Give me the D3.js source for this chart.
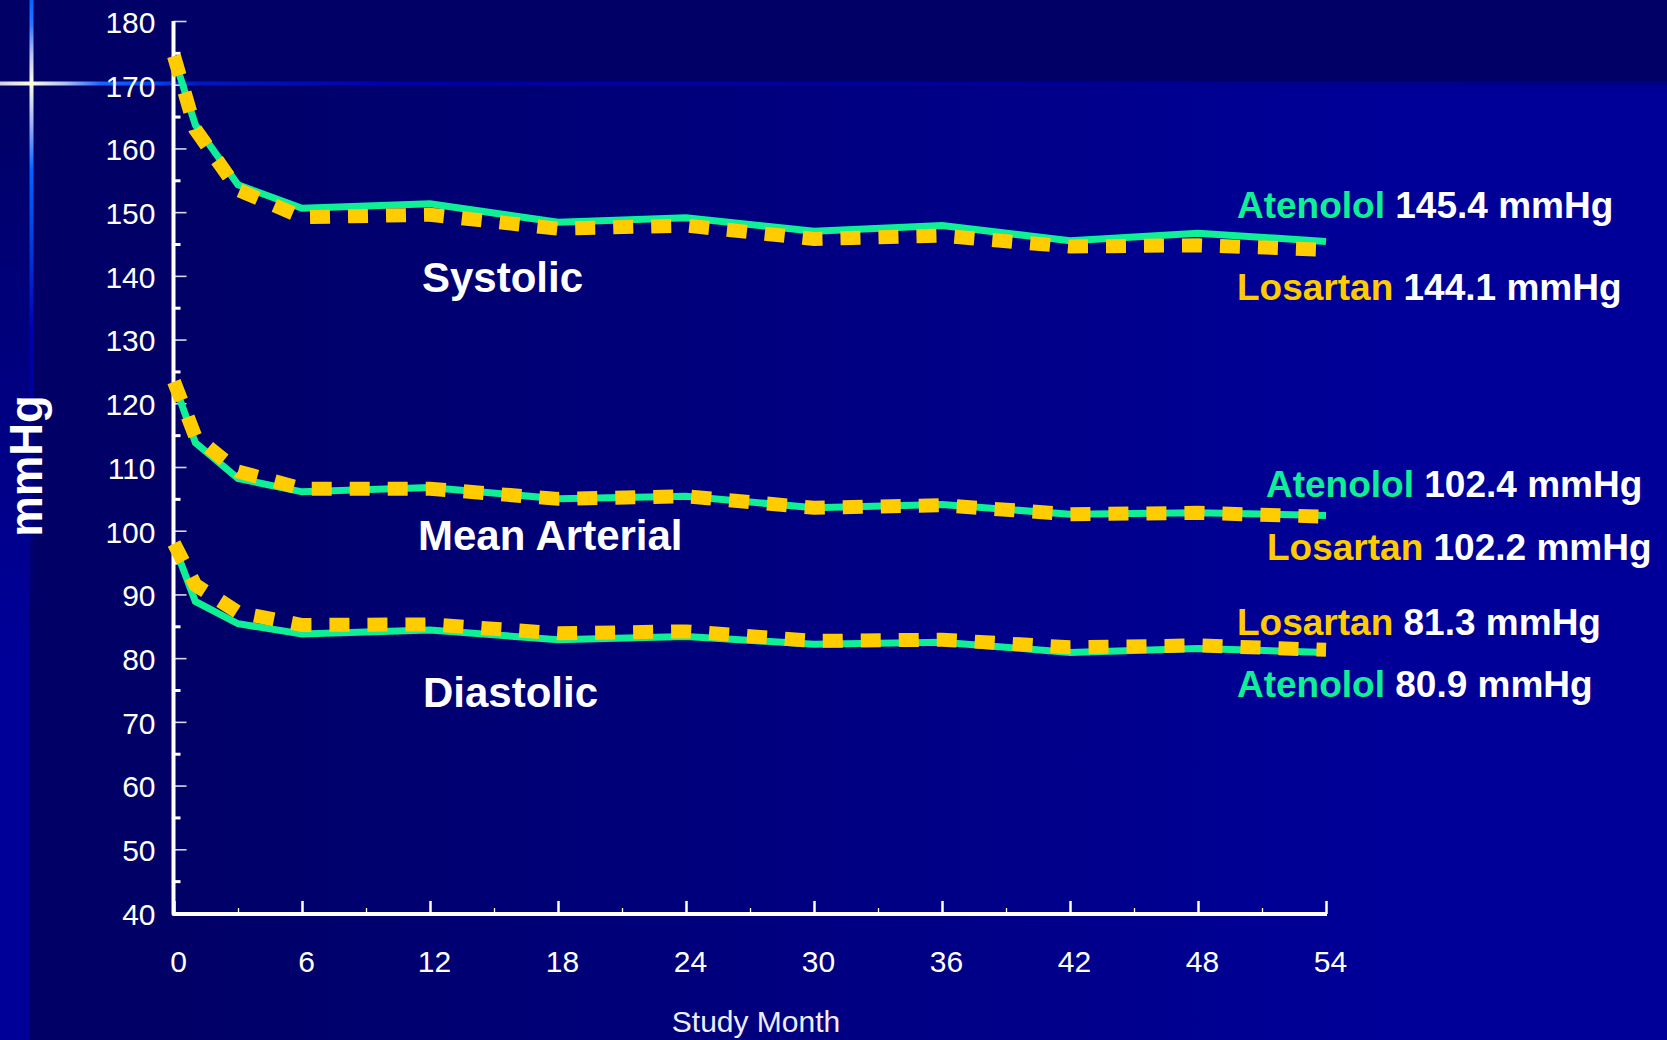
<!DOCTYPE html>
<html>
<head>
<meta charset="utf-8">
<script src="https://cdn.jsdelivr.net/npm/d3@7"></script>
<style>
  html, body { margin: 0; padding: 0; background: #000066; overflow: hidden; }
  svg { display: block; }
</style>
</head>
<body>
<svg id="chart" width="1667" height="1040"></svg>
<script>
// ---- data (mmHg by study month) ----
const months = [0, 1, 3, 6, 12, 18, 24, 30, 36, 42, 48, 54];

const systolicAtenolol = [174.3, 163.7, 154.3, 150.6, 151.3, 148.4, 149.1, 147.0, 147.9, 145.5, 146.7, 145.4];
const systolicLosartan = [174.5, 163.0, 153.5, 149.2, 149.6, 147.4, 147.9, 145.8, 146.3, 144.6, 144.8, 144.1];

const meanAtenolol = [123.2, 113.8, 108.2, 106.1, 106.8, 105.0, 105.4, 103.6, 104.1, 102.6, 102.8, 102.4];
const meanLosartan = [123.4, 114.8, 109.3, 106.6, 106.6, 105.0, 105.4, 103.6, 104.0, 102.6, 102.8, 102.2];

const diastolicAtenolol = [97.8, 88.9, 85.4, 83.8, 84.4, 82.9, 83.4, 82.2, 82.5, 80.9, 81.5, 80.9];
const diastolicLosartan = [98.0, 91.5, 87.2, 85.2, 85.3, 83.9, 84.2, 82.7, 82.9, 81.7, 82.0, 81.3];

const groupNames = ["Systolic", "Mean Arterial", "Diastolic"];
const drugNames = ["Atenolol", "Losartan"];

const yTickValues = [40, 50, 60, 70, 80, 90, 100, 110, 120, 130, 140, 150, 160, 170, 180];
const yMinorValues = [45, 55, 65, 75, 85, 95, 105, 115, 125, 135, 145, 155, 165, 175];
const xTickValues = [0, 6, 12, 18, 24, 30, 36, 42, 48, 54];
const xMinorValues = [3, 9, 15, 21, 27, 33, 39, 45, 51];

const yTitle = "mmHg";
const xTitle = "Study Month";
const unit = "mmHg";

// ---- styling ----
const FONT = "'Liberation Sans', Arial, Helvetica, sans-serif";
const GREEN = "#10EE96";
const YELLOW = "#FFCC00";
const drugColor = { Atenolol: GREEN, Losartan: YELLOW };

const svg = d3.select("#chart");
const W = 1667, H = 1040;

// ---- background ----
const defs = svg.append("defs");

const mainGrad = defs.append("linearGradient").attr("id", "bgMain")
  .attr("gradientUnits", "userSpaceOnUse").attr("x1", 150).attr("y1", 0).attr("x2", 1400).attr("y2", 0);
mainGrad.append("stop").attr("offset", 0).attr("stop-color", "#000066");
mainGrad.append("stop").attr("offset", 1).attr("stop-color", "#000099");

const stripGrad = defs.append("linearGradient").attr("id", "bgStrip")
  .attr("gradientUnits", "userSpaceOnUse").attr("x1", 0).attr("y1", 86).attr("x2", 0).attr("y2", 1040);
stripGrad.append("stop").attr("offset", 0).attr("stop-color", "#000066");
stripGrad.append("stop").attr("offset", 0.6).attr("stop-color", "#000099");
stripGrad.append("stop").attr("offset", 1).attr("stop-color", "#000099");

const vGlow = defs.append("linearGradient").attr("id", "glowV")
  .attr("gradientUnits", "userSpaceOnUse").attr("x1", 0).attr("y1", 0).attr("x2", 0).attr("y2", 620);
[[0, "#0066ff", 1], [25, "#2f74ff", 1], [55, "#b8c4f4", 1], [83, "#ffffe0", 1], [120, "#a8b8f4", 1],
 [170, "#0066ff", 1], [240, "#0040dd", 1], [330, "#0000b0", 1], [620, "#000099", 0]]
  .forEach(([o, c, a]) => vGlow.append("stop").attr("offset", o / 620).attr("stop-color", c).attr("stop-opacity", a));

const hGlow = defs.append("linearGradient").attr("id", "glowH")
  .attr("gradientUnits", "userSpaceOnUse").attr("x1", 0).attr("y1", 0).attr("x2", W).attr("y2", 0);
[[0, "#d0d0e8", 1], [31, "#ffffe0", 1], [65, "#b0c0f4", 1], [100, "#1a66ff", 1], [140, "#0050ff", 1],
 [200, "#0018c0", 1], [400, "#0000aa", 1], [W, "#0000aa", 0.4]]
  .forEach(([o, c, a]) => hGlow.append("stop").attr("offset", o / W).attr("stop-color", c).attr("stop-opacity", a));

svg.append("rect").attr("x", 0).attr("y", 0).attr("width", W).attr("height", H).attr("fill", "url(#bgMain)");
svg.append("rect").attr("x", 0).attr("y", 0).attr("width", W).attr("height", 86).attr("fill", "#000066");
svg.append("rect").attr("x", 0).attr("y", 86).attr("width", 30).attr("height", H - 86).attr("fill", "url(#bgStrip)");
svg.append("rect").attr("x", 29.5).attr("y", 0).attr("width", 4).attr("height", 620).attr("fill", "url(#glowV)");
svg.append("rect").attr("x", 0).attr("y", 81.5).attr("width", W).attr("height", 4).attr("fill", "url(#glowH)");

// ---- scales ----
const x = d3.scaleLinear().domain([0, 54]).range([174, 1326]);
const y = d3.scaleLinear().domain([40, 180]).range([913, 21]);
const axisY0 = 914;   // x-axis baseline
const axisX0 = 173.5; // y-axis line

// ---- axes ----
const gY = svg.append("g").attr("transform", `translate(${axisX0},0)`)
  .call(d3.axisLeft(y).tickValues(yTickValues).tickSizeInner(-13).tickSizeOuter(0)
    .tickPadding(18).tickFormat(d3.format("d")));
gY.select(".domain").remove();
gY.selectAll(".tick line").attr("stroke", "#d8d8e8").attr("stroke-width", 1.6);
gY.selectAll(".tick text").attr("fill", "#ffffff").attr("font-size", 30)
  .attr("font-family", FONT).attr("dy", "0.38em");

const gYm = svg.append("g").attr("transform", `translate(${axisX0},0)`)
  .call(d3.axisLeft(y).tickValues(yMinorValues).tickSizeInner(-7).tickSizeOuter(0).tickFormat(""));
gYm.select(".domain").remove();
gYm.selectAll(".tick line").attr("stroke", "#ffffff").attr("stroke-width", 3);

const gX = svg.append("g").attr("transform", `translate(0,${axisY0})`)
  .call(d3.axisBottom(x).tickValues(xTickValues).tickSizeInner(-13).tickSizeOuter(0)
    .tickPadding(36.7).tickFormat(d3.format("d")));
gX.select(".domain").remove();
gX.selectAll(".tick line").attr("stroke", "#ffffff").attr("stroke-width", 2.5);
gX.selectAll(".tick text").attr("fill", "#ffffff").attr("font-size", 30)
  .attr("font-family", FONT).attr("x", 4);

const gXm = svg.append("g").attr("transform", `translate(0,${axisY0})`)
  .call(d3.axisBottom(x).tickValues(xMinorValues).tickSizeInner(-6).tickSizeOuter(0).tickFormat(""));
gXm.select(".domain").remove();
gXm.selectAll(".tick line").attr("stroke", "#ffffff").attr("stroke-width", 1.3);

// axis lines
svg.append("path")
  .attr("d", d3.line()([[axisX0, y(180)], [axisX0, axisY0], [x(54) + 1, axisY0]]))
  .attr("fill", "none").attr("stroke", "#ffffff").attr("stroke-width", 4)
  .attr("stroke-linejoin", "round");

// axis titles
svg.append("text")
  .attr("transform", "translate(42,466) rotate(-90)")
  .attr("text-anchor", "middle").attr("font-family", FONT).attr("font-weight", "bold")
  .attr("font-size", 45.5).attr("fill", "#ffffff").text(yTitle);

svg.append("text")
  .attr("x", 756).attr("y", 1031.5).attr("text-anchor", "middle")
  .attr("font-family", FONT).attr("font-size", 30).attr("fill", "#eeeeff").text(xTitle);

// ---- series ----
const groups = [
  { name: groupNames[0], Atenolol: systolicAtenolol, Losartan: systolicLosartan },
  { name: groupNames[1], Atenolol: meanAtenolol, Losartan: meanLosartan },
  { name: groupNames[2], Atenolol: diastolicAtenolol, Losartan: diastolicLosartan }
];

const line = d3.line().x(d => x(d[0])).y(d => y(d[1]));
const pairs = vals => months.map((m, i) => [m, vals[i]]);

const gLines = svg.append("g");
groups.forEach(g => {
  gLines.append("path").attr("d", line(pairs(g.Atenolol)))
    .attr("fill", "none").attr("stroke", GREEN).attr("stroke-width", 7)
    .attr("stroke-linejoin", "miter");
});
groups.forEach(g => {
  gLines.append("path").attr("d", line(pairs(g.Losartan)))
    .attr("fill", "none").attr("stroke", YELLOW).attr("stroke-width", 14)
    .attr("stroke-dasharray", "20 18").attr("stroke-linecap", "butt");
});

// ---- group titles ----
const groupTitlePos = [[422, 292], [418, 550], [423, 707]];
groups.forEach((g, i) => {
  svg.append("text").attr("x", groupTitlePos[i][0]).attr("y", groupTitlePos[i][1])
    .attr("font-family", FONT).attr("font-weight", "bold").attr("font-size", 42)
    .attr("fill", "#ffffff").text(g.name);
});

// ---- end-of-line value labels ----
const endLabelPos = [
  { group: 0, drug: "Atenolol", x: 1237, y: 218 },
  { group: 0, drug: "Losartan", x: 1237, y: 300 },
  { group: 1, drug: "Atenolol", x: 1266, y: 497 },
  { group: 1, drug: "Losartan", x: 1267, y: 560 },
  { group: 2, drug: "Losartan", x: 1237, y: 635 },
  { group: 2, drug: "Atenolol", x: 1237, y: 697 }
];
endLabelPos.forEach(p => {
  const vals = groups[p.group][p.drug];
  const last = vals[vals.length - 1];
  const t = svg.append("text").attr("x", p.x).attr("y", p.y)
    .attr("font-family", FONT).attr("font-weight", "bold").attr("font-size", 37);
  t.append("tspan").attr("fill", drugColor[p.drug]).text(p.drug);
  t.append("tspan").attr("fill", "#ffffff").text(" " + last.toFixed(1) + " " + unit);
});
</script>
</body>
</html>
